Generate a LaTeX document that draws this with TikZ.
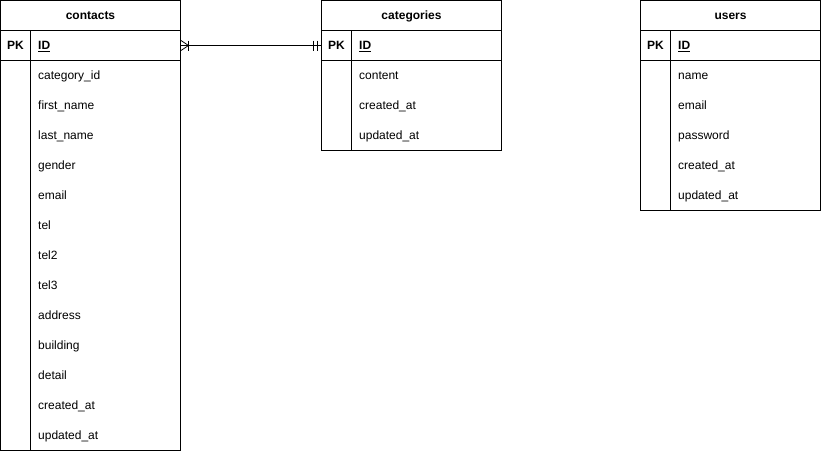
\documentclass[tikz,border=0pt]{standalone}
\usepackage{fontspec}
\setmainfont{Liberation Sans}
\begin{document}
\begin{tikzpicture}[x=1pt,y=-1pt,
  tbl/.style={draw=black,line width=0.8pt},
  ttl/.style={font=\fontsize{12}{14}\selectfont\bfseries,anchor=base,inner sep=0pt},
  pk/.style={font=\fontsize{12}{14}\selectfont\bfseries,anchor=base,inner sep=0pt},
  attr/.style={font=\fontsize{12}{14}\selectfont,anchor=base west,inner sep=0pt},
  key/.style={font=\fontsize{12}{14}\selectfont\bfseries,anchor=base west,inner sep=0pt},
  rel/.style={draw=black,line width=0.8pt}]
\useasboundingbox (0,0) rectangle (821,451);
\newcommand{\ertable}[5]{%
  % #1 name, #2 x, #3 title, #4 number of attribute rows, #5 list
  \draw[tbl] (#2+0.5,0.5) rectangle ++(180,30+30+30*#4);
  \draw[tbl] (#2+0.5,30.5) -- ++(180,0);
  \draw[tbl] (#2+0.5,60.5) -- ++(180,0);
  \draw[tbl] (#2+30.5,30.5) -- ++(0,30+30*#4);
  \node[ttl] (#1-title) at (#2+90.5,19.5) {#3};
  \node[pk] (#1-pk) at (#2+15.5,49.5) {PK};
  \node[key] (#1-id) at (#2+38,49.5) {\underline{ID}};
  \foreach \t [count=\i] in {#5} {
    \node[attr] (#1-a\i) at (#2+38,49.5+30*\i) {\t};
  }%
}
\ertable{contacts}{0}{contacts}{13}{category\_id,first\_name,last\_name,gender,email,tel,tel2,tel3,address,building,detail,created\_at,updated\_at}
\ertable{categories}{321}{categories}{3}{content,created\_at,updated\_at}
\ertable{users}{640}{users}{5}{name,email,password,created\_at,updated\_at}
% connector
\coordinate (cL) at (180.5,45.5);
\coordinate (cR) at (321.5,45.5);
\draw[rel] (cL) -- (cR);
% one-or-many at contacts
\coordinate (fk) at (188.5,45.5);
\draw[rel] (181,40.5) -- (fk) -- (181,50.5);
\draw[rel] (188.5,40.5) -- (188.5,50.5);
% one-and-only-one at categories
\draw[rel] (313.5,40.5) -- (313.5,50.5);
\draw[rel] (317,40.5) -- (317,50.5);
\end{tikzpicture}
\end{document}
